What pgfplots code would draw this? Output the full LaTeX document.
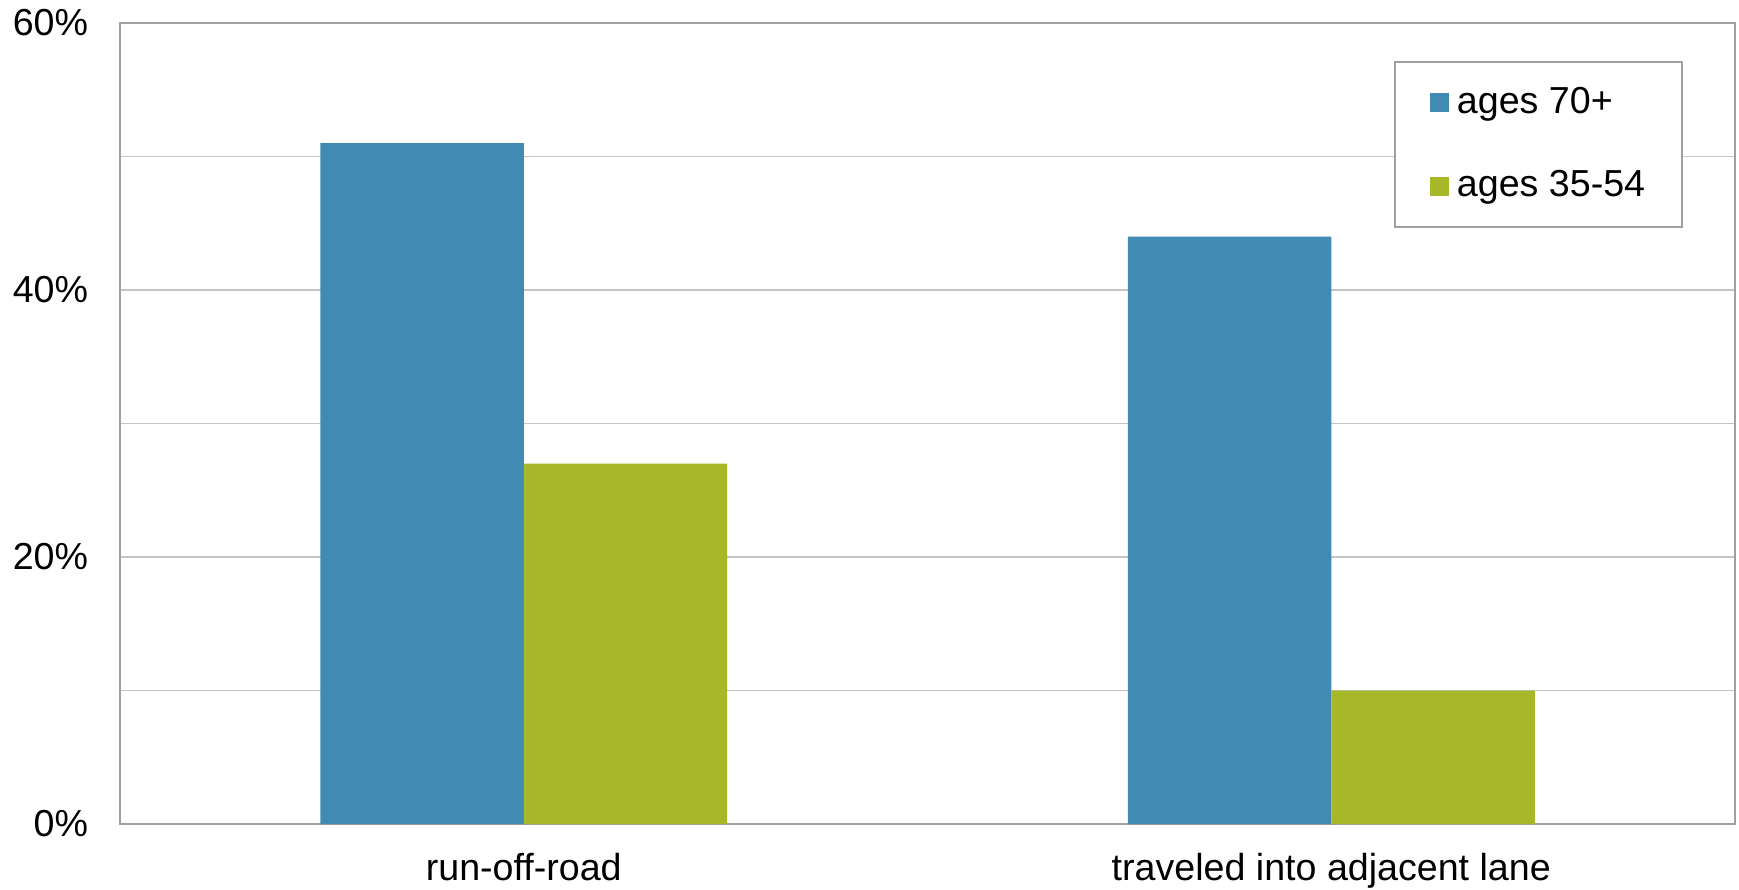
\documentclass[border=0pt]{standalone}
\usepackage{fontspec}
\setmainfont{Liberation Sans}
\usepackage{pgfplots}
\pgfplotsset{compat=1.18}
\definecolor{barblue}{HTML}{418AB3}
\definecolor{bargreen}{HTML}{A6B727}
\definecolor{framegray}{HTML}{A0A0A0}
\definecolor{gridgray}{HTML}{C4C4C4}
\begin{document}
\begin{tikzpicture}
  \path[use as bounding box] (-1.20cm,-0.65cm) rectangle (16.19cm,8.24cm);
  \begin{axis}[
    at={(0,0)}, anchor=south west,
    scale only axis,
    width=16.15cm, height=8.01cm,
    ybar=0pt, bar width=0.252,
    xmin=-0.5, xmax=1.5,
    ymin=0, ymax=60,
    xtick={0,1},
    xticklabels={run-off-road, traveled into adjacent lane},
    ytick={0,20,40,60},
    minor ytick={10,30,50},
    yticklabel={\pgfmathprintnumber{\tick}\%},
    /pgf/number format/assume math mode=true,
    ymajorgrids, yminorgrids,
    major grid style={gridgray, line width=0.55pt},
    minor grid style={gridgray, line width=0.55pt},
    axis line style={framegray, line width=0.6pt},
    major tick length=0pt, minor tick length=0pt,
    tick label style={font=\fontsize{10.7}{12.8}\selectfont, black},
    yticklabel style={xshift=-0.195cm},
    xticklabel style={yshift=-0.17cm},
    legend cell align=left,
    legend image code/.code={\fill[#1] (0cm,-0.095cm) rectangle (0.19cm,0.095cm);},
    legend style={
      at={(0.7888,0.9526)}, anchor=north west,
      draw=framegray, line width=0.6pt,
      font=\fontsize{10.7}{12.8}\selectfont,
      inner xsep=0.35cm, inner ysep=0.18cm,
      row sep=0.38cm, column sep=0.06cm,
      nodes={inner xsep=0.02cm},
    },
  ]
    \addplot[fill=barblue, draw=none] coordinates {(0,51) (1,44)};
    \addplot[fill=bargreen, draw=none] coordinates {(0,27) (1,10)};
    \legend{ages 70+, ages 35-54}
  \end{axis}
\end{tikzpicture}
\end{document}
